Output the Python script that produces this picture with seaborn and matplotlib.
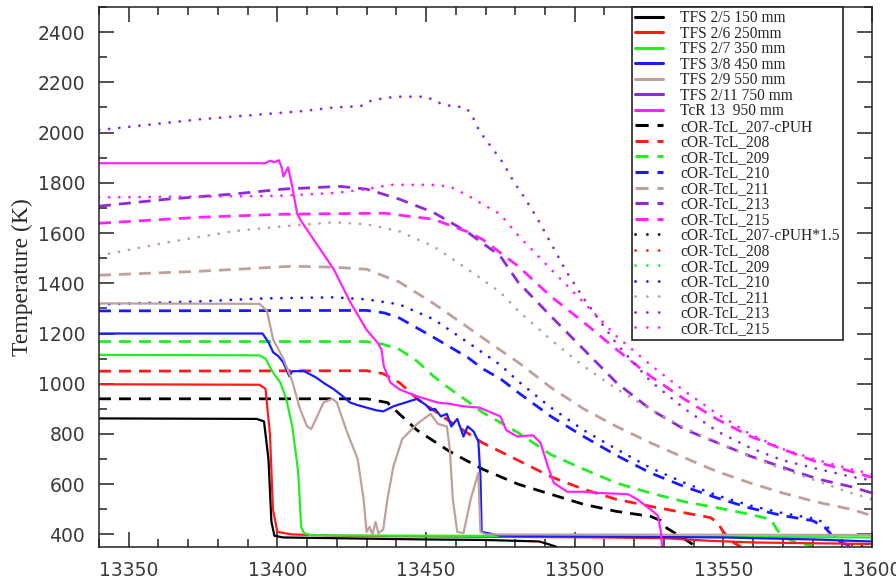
import numpy as np
import pandas as pd
import matplotlib
matplotlib.use("Agg")
import matplotlib.pyplot as plt
import seaborn as sns
from matplotlib.lines import Line2D
from matplotlib.ticker import MultipleLocator

# ---------------- data (time [s], temperature [K]) ----------------
tfs25_t = [13340, 13393, 13395.5, 13397, 13398, 13399, 13402, 13420, 13450, 13470, 13488, 13491, 13494]
tfs25_T = [862, 860, 850, 700, 450, 395, 388, 385, 380, 378, 372, 362, 350]

tfs26_t = [13340, 13394, 13396, 13397.5, 13398.5, 13400, 13405, 13420, 13450, 13480, 13510, 13530, 13545, 13560, 13600]
tfs26_T = [998, 996, 980, 800, 500, 410, 400, 395, 392, 390, 388, 385, 375, 368, 362]

tfs27_t = [13340, 13394, 13396, 13398.5, 13401, 13403, 13405, 13407, 13408, 13409, 13411, 13420, 13450, 13500, 13550, 13600]
tfs27_T = [1115, 1113, 1100, 1045, 1005, 940, 830, 650, 430, 405, 398, 396, 395, 393, 390, 388]

tfs38_t = [13340, 13395, 13397, 13398.6, 13400.3, 13402, 13404, 13405, 13409, 13413, 13416, 13419, 13422,
           13424.5, 13427, 13430, 13433, 13435.6, 13439, 13443, 13447, 13450, 13451.5, 13453, 13455, 13457,
           13458.5, 13460.5, 13462.6, 13464, 13466, 13467.6, 13468.3, 13468.7, 13475, 13500, 13550, 13580, 13600]
tfs38_T = [1200, 1200, 1165, 1125, 1110, 1085, 1030, 1050, 1050, 1025, 1000, 978, 950,
           925, 915, 905, 895, 890, 910, 925, 940, 915, 895, 900, 870, 880,
           830, 860, 790, 830, 810, 770, 630, 410, 395, 392, 388, 380, 372]

tfs29_t = [13340, 13394, 13396.5, 13398.6, 13402, 13405, 13407.6, 13410, 13411.4, 13413, 13415.5, 13418.5,
           13420, 13423.5, 13427, 13429, 13430, 13431, 13432, 13433, 13434, 13435.6, 13437, 13439, 13442,
           13447, 13451.5, 13454, 13457, 13458, 13459, 13460.5, 13462.6, 13465, 13467.6, 13468.3, 13470, 13600]
tfs29_T = [1320, 1318, 1290, 1175, 1100, 1010, 900, 830, 820, 860, 925, 940,
           925, 805, 700, 540, 410, 430, 400, 450, 405, 420, 540, 670, 780,
           840, 880, 840, 830, 740, 540, 410, 405, 540, 645, 410, 400, 398]

tfs211_t = []
tfs211_T = []

tcr13_t = [13340, 13396, 13397.5, 13399, 13400.5, 13401.5, 13402, 13403.6, 13405, 13406.6, 13407.6, 13413, 13419,
           13424.5, 13430, 13433.6, 13435, 13435.8, 13438, 13441, 13447, 13454, 13458, 13462.6, 13468, 13475,
           13477, 13480.7, 13486, 13488.5, 13491, 13493, 13497.5, 13503, 13508.7, 13518, 13521, 13525.5, 13528,
           13529, 13529.5]
tcr13_T = [1878, 1878, 1888, 1882, 1890, 1860, 1825, 1862, 1785, 1680, 1655, 1560, 1455,
           1325, 1215, 1165, 1137, 1070, 1005, 978, 950, 925, 920, 910, 905, 870,
           815, 790, 795, 765, 670, 605, 570, 570, 565, 560, 540, 500, 475,
           410, 340]

# model runs, dashed
c207_t = [13340, 13430, 13437, 13441, 13447, 13458, 13469, 13481, 13492, 13503, 13514, 13525.5, 13529, 13531, 13536.6, 13541]
c207_T = [940, 940, 925, 880, 815, 730, 660, 600, 560, 520, 492, 472, 455, 425, 385, 350]

c208_t = [13340, 13430, 13435.6, 13441, 13447, 13458, 13469, 13481, 13492, 13503, 13514, 13525.5, 13536.6, 13545.7, 13548, 13550, 13553.5, 13556]
c208_T = [1050, 1052, 1040, 1005, 940, 850, 765, 695, 630, 580, 540, 512, 487, 467, 448, 410, 367, 350]

c209_t = [13340, 13430, 13435.6, 13441, 13447, 13452.5, 13458, 13464, 13469, 13481, 13492, 13503, 13514, 13525.5, 13537, 13548, 13559, 13566, 13568, 13570, 13574, 13580]
c209_T = [1168, 1168, 1157, 1137, 1090, 1030, 980, 930, 886, 805, 718, 660, 605, 565, 530, 506, 480, 460, 420, 392, 370, 355]

c210_t = [13340, 13430, 13436, 13441, 13452.5, 13464, 13469, 13475, 13481, 13492, 13503, 13514, 13525.5, 13537, 13548, 13559, 13570, 13580, 13584, 13587, 13590, 13595]
c210_T = [1290, 1292, 1282, 1262, 1185, 1105, 1060, 1020, 965, 870, 790, 715, 645, 590, 545, 505, 475, 455, 430, 390, 365, 350]

c211_t = [13340, 13374, 13390, 13405, 13419, 13430, 13441, 13452.5, 13464, 13473, 13481, 13492, 13503, 13514, 13525.5, 13537, 13548, 13559, 13570, 13581, 13593, 13600]
c211_T = [1432, 1448, 1458, 1468, 1464, 1456, 1405, 1320, 1225, 1150, 1085, 985, 900, 830, 765, 705, 650, 605, 565, 530, 500, 475]

c213_t = [13340, 13363, 13385, 13402, 13421, 13430, 13441, 13452.5, 13464, 13469, 13475, 13481, 13492, 13503, 13514, 13525.5, 13537, 13548, 13559, 13570, 13582, 13593, 13600]
c213_T = [1707, 1735, 1755, 1775, 1786, 1775, 1735, 1682, 1603, 1560, 1508, 1404, 1269, 1137, 1005, 898, 818, 765, 712, 667, 620, 590, 565]

c215_t = [13340, 13374, 13402, 13436, 13452.5, 13464, 13469, 13481, 13492, 13503, 13514, 13525.5, 13537, 13548, 13559, 13570, 13582, 13593, 13600]
c215_T = [1639, 1663, 1675, 1679, 1655, 1605, 1575, 1468, 1348, 1245, 1137, 1030, 938, 858, 791, 739, 686, 651, 627]

# model runs, dotted (CPUH*1.5 family)
d207_t, d207_T = [], []
d208_t, d208_T = [], []
d209_t, d209_T = [], []

d210_t = [13340, 13374, 13396, 13419, 13430, 13441, 13452.5, 13464, 13475, 13481, 13492, 13503, 13514, 13525.5, 13537, 13548, 13559, 13570, 13582, 13585, 13588.5, 13592, 13597]
d210_T = [1316, 1328, 1340, 1344, 1336, 1316, 1257, 1165, 1075, 1010, 905, 815, 740, 665, 605, 555, 515, 485, 460, 430, 380, 362, 352]

d211_t = [13340, 13363, 13385, 13402, 13419, 13430, 13441, 13452.5, 13464, 13475, 13481, 13492, 13503, 13514, 13525.5, 13537, 13548, 13559, 13570, 13581, 13593, 13600]
d211_T = [1510, 1563, 1607, 1627, 1643, 1635, 1607, 1547, 1456, 1364, 1290, 1175, 1070, 980, 898, 825, 765, 710, 660, 615, 565, 540]

d213_t = [13340, 13374, 13408, 13419, 13428, 13432, 13440, 13450, 13456, 13463, 13465, 13468, 13472, 13476, 13479.4, 13483, 13487, 13492, 13497, 13503, 13514, 13525.5, 13537, 13548, 13559, 13570, 13582, 13593, 13600]
d213_T = [2010, 2053, 2085, 2100, 2105, 2130, 2143, 2143, 2110, 2100, 2080, 2005, 1942, 1878, 1806, 1743, 1667, 1560, 1450, 1340, 1160, 1010, 900, 810, 745, 695, 660, 630, 615]

d215_t = [13340, 13400, 13420, 13430, 13438, 13452, 13458, 13464, 13469, 13475, 13481, 13492, 13503, 13514, 13525.5, 13537, 13548, 13559, 13570, 13582, 13593, 13600]
d215_T = [1742, 1748, 1760, 1775, 1792, 1792, 1785, 1750, 1715, 1675, 1590, 1456, 1324, 1190, 1075, 970, 880, 800, 740, 695, 660, 640]

labels = ["TFS 2/5 150 mm", "TFS 2/6 250mm", "TFS 2/7 350 mm", "TFS 3/8 450 mm", "TFS 2/9 550 mm",
          "TFS 2/11 750 mm", "TcR 13  950 mm",
          "cOR-TcL_207-cPUH", "cOR-TcL_208", "cOR-TcL_209", "cOR-TcL_210", "cOR-TcL_211", "cOR-TcL_213", "cOR-TcL_215",
          "cOR-TcL_207-cPUH*1.5", "cOR-TcL_208", "cOR-TcL_209", "cOR-TcL_210", "cOR-TcL_211", "cOR-TcL_213", "cOR-TcL_215"]

# ---------------- styling ----------------
BLACK, RED, GREEN, BLUE, TAN, PURPLE, MAGENTA = "#000000", "#ff1a1a", "#22ee22", "#1a1aff", "#bfa09a", "#8e2ad8", "#ff22ff"
seven = [BLACK, RED, GREEN, BLUE, TAN, PURPLE, MAGENTA]
colors = seven * 3
kinds = ["solid"] * 7 + ["dashed"] * 7 + ["dotted"] * 7
series = [(tfs25_t, tfs25_T), (tfs26_t, tfs26_T), (tfs27_t, tfs27_T), (tfs38_t, tfs38_T), (tfs29_t, tfs29_T),
          (tfs211_t, tfs211_T), (tcr13_t, tcr13_T),
          (c207_t, c207_T), (c208_t, c208_T), (c209_t, c209_T), (c210_t, c210_T), (c211_t, c211_T), (c213_t, c213_T), (c215_t, c215_T),
          (d207_t, d207_T), (d208_t, d208_T), (d209_t, d209_T), (d210_t, d210_T), (d211_t, d211_T), (d213_t, d213_T), (d215_t, d215_T)]

STY = {
    "solid": dict(linestyle="-", linewidth=1.6),
    "dashed": dict(linestyle=(0, (4.3, 2.9)), linewidth=2.0),
    "dotted": dict(linestyle=(0, (0.05, 3.6)), linewidth=2.0, dash_capstyle="round"),
}
LEG_STY = {
    "solid": dict(linestyle="-", linewidth=2.2),
    "dashed": dict(linestyle=(0, (4.3, 2.9)), linewidth=2.2),
    "dotted": dict(linestyle=(0, (0.05, 4.2)), linewidth=2.0, dash_capstyle="round"),
}

sns.set_theme(style="ticks")
plt.rcParams["font.family"] = ["DejaVu Sans"]

fig = plt.figure(figsize=(8.96, 5.81), dpi=100)
L, R, B, T = 99, 872, 547, 7
ax = fig.add_axes([L / 896, 1 - B / 581, (R - L) / 896, (B - T) / 581])

# draw order: dotted & dashed first, solid on top
order = list(range(7, 21)) + list(range(0, 7))
for i in order:
    t, y = series[i]
    if len(t) == 0:
        continue
    df = pd.DataFrame({"time": t, "temp": y})
    sns.lineplot(data=df, x="time", y="temp", ax=ax, color=colors[i], sort=False,
                 estimator=None, legend=False, **STY[kinds[i]])

ax.set_xlim(13340, 13600)
ax.set_ylim(350, 2500)
ax.xaxis.set_major_locator(MultipleLocator(50))
ax.xaxis.set_minor_locator(MultipleLocator(10))
ax.yaxis.set_major_locator(MultipleLocator(200))
ax.yaxis.set_minor_locator(MultipleLocator(100))
ax.tick_params(which="both", direction="in", top=True, right=True, color="#222222")
ax.tick_params(which="major", length=11, width=1.1, labelsize=13.5, pad=10, labelcolor="#3a3a3a")
ax.tick_params(which="minor", length=5.5, width=1.1)
for s in ax.spines.values():
    s.set_color("#222222")
    s.set_linewidth(1.1)
ax.set_xlabel("")
ax.set_ylabel("Temperature (K)", family=["Liberation Serif"], fontsize=17, color="#2a2a2a")
ax.yaxis.set_label_coords(-0.085, 0.5)

handles = [Line2D([], [], color=colors[i], **LEG_STY[kinds[i]]) for i in range(21)]
leg = ax.legend(handles, labels, loc="upper right", bbox_to_anchor=(0.9625, 1.0), borderaxespad=0,
                frameon=True, fancybox=False, framealpha=1, edgecolor="#222222",
                prop={"family": ["Liberation Serif"], "size": 11.2},
                handlelength=1.8, handletextpad=1.1, labelspacing=-0.03, borderpad=0.2)
leg.get_frame().set_linewidth(1.2)

fig.savefig("out.png", dpi=100)
